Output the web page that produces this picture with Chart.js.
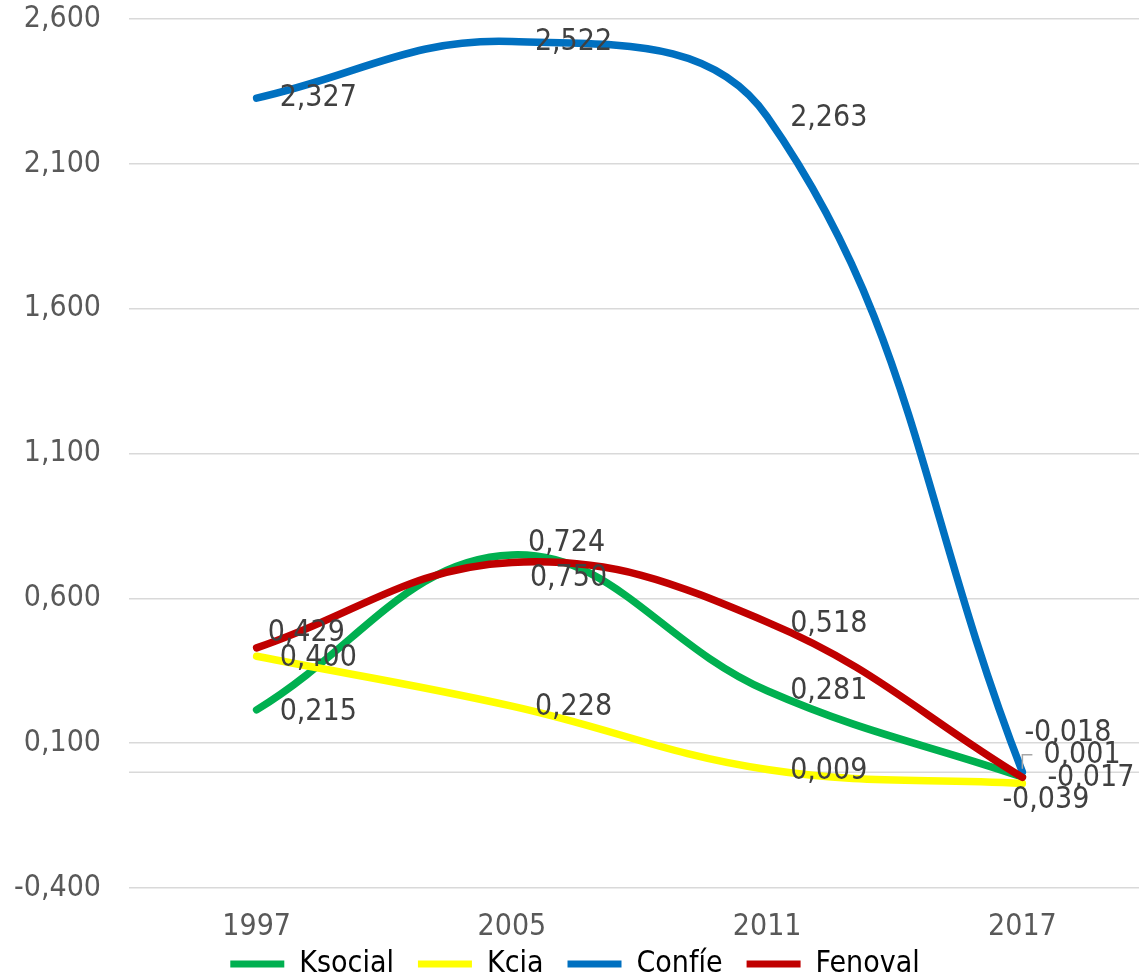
<!DOCTYPE html>
<html><head><meta charset="utf-8">
<script src="https://cdn.jsdelivr.net/npm/chart.js@4/dist/chart.umd.min.js"></script>
<style>html,body{margin:0;padding:0;background:#fff;overflow:hidden}#wrap{width:1150px;height:978px}</style>
</head><body><div id="wrap"><canvas id="c" width="1150" height="978"></canvas></div>
<script>
const categories = ['1997','2005','2011','2017'];
const ksocial = [0.215, 0.750, 0.281, -0.017];
const kcia    = [0.400, 0.228, 0.009, -0.039];
const confie  = [2.327, 2.522, 2.263, 0.001];
const fenoval = [0.429, 0.724, 0.518, -0.018];
const seriesNames = ['Ksocial','Kcia','Confíe','Fenoval'];
const yTicks = [-0.4, 0.1, 0.6, 1.1, 1.6, 2.1, 2.6];

// label offsets (styling) relative to each point
const labelOffsets = [
  [[23,2],[18,23],[23,0],[25,1]],
  [[23,2],[23,1],[23,2],[-20,17]],
  [[23,0],[23,1],[23,2],[21,-17]],
  [[11,-15],[16,-19],[23,2],[2,-44]]
];
const colors = ['#00b050','#ffff00','#0070c0','#c00000'];
const FONT = '"DejaVu Sans Condensed","DejaVu Sans",sans-serif';
const FS = 30;
const fmt = v => v.toFixed(3).replace('.', ',');

const labelPlugin = {
  id: 'dlabels',
  afterDatasetsDraw(chart) {
    const ctx = chart.ctx;
    ctx.save();
    ctx.font = FS + 'px ' + FONT;
    ctx.fillStyle = '#404040';
    ctx.textAlign = 'left'; ctx.textBaseline = 'middle';
    chart.data.datasets.forEach((ds, di) => {
      const meta = chart.getDatasetMeta(di);
      meta.data.forEach((pt, i) => {
        const [dx, dy] = labelOffsets[di][i];
        if (di === 2 && i === 3) {
          ctx.strokeStyle = '#a6a6a6'; ctx.lineWidth = 1.5;
          ctx.beginPath(); ctx.moveTo(pt.x, pt.y - 3); ctx.lineTo(pt.x, pt.y + dy); ctx.lineTo(pt.x + 10, pt.y + dy); ctx.stroke();
        }
        ctx.fillText(fmt(ds.data[i]), pt.x + dx, pt.y + dy);
      });
    });
    ctx.restore();
  }
};
const zeroLine = {
  id: 'zeroLine',
  beforeDatasetsDraw(chart) {
    const ctx = chart.ctx, ys = chart.scales.y, y0 = ys.getPixelForValue(0);
    ctx.save();
    ctx.strokeStyle = '#d9d9d9'; ctx.lineWidth = 1.5;
    ctx.beginPath(); ctx.moveTo(chart.chartArea.left, y0); ctx.lineTo(chart.chartArea.right, y0); ctx.stroke();
    ctx.restore();
  }
};
// legend: compact layout box, drawn slightly higher
const legendFix = {
  id: 'legendFix',
  beforeLayout(chart) {
    const lg = chart.legend;
    if (lg && !lg._patched) {
      const f = lg.fit.bind(lg);
      lg.fit = function () { f(); this.height = 30; };
      lg._patched = true;
    }
  },
  afterLayout(chart) {
    const lg = chart.legend;
    if (lg) { lg.top = chart.height - 53; }
  }
};

const allData = [ksocial, kcia, confie, fenoval];
new Chart(document.getElementById('c'), {
  type: 'line',
  data: {
    labels: categories,
    datasets: allData.map((d, i) => ({
      label: seriesNames[i], data: d, borderColor: colors[i], backgroundColor: colors[i],
      borderWidth: 7.5, tension: 0.4, pointRadius: 0, borderCapStyle: 'round', fill: false,
      order: 4 - i
    }))
  },
  options: {
    responsive: false, animation: false,
    layout: { padding: { top: 19, right: 0, left: 0, bottom: 0 } },
    plugins: {
      tooltip: { enabled: false },
      legend: {
        position: 'bottom',
        labels: {
          sort: (a, b) => a.datasetIndex - b.datasetIndex,
          boxWidth: 54, boxHeight: 7, padding: 24,
          useBorderRadius: true, borderRadius: 3,
          color: '#595959', font: { size: FS, family: FONT },
          generateLabels(chart) {
            return chart.data.datasets.map((ds, i) => ({
              text: ds.label, fillStyle: ds.borderColor, strokeStyle: ds.borderColor,
              lineWidth: 0, datasetIndex: i, hidden: false
            }));
          }
        }
      }
    },
    scales: {
      x: {
        offset: true,
        grid: { display: false, drawTicks: false }, border: { display: false },
        ticks: { color: '#595959', font: { size: FS, family: FONT }, padding: 21, maxRotation: 0 },
        afterFit: s => { s.height = 60; s.paddingLeft = 0; s.paddingRight = 0; }
      },
      y: {
        min: -0.4, max: 2.6,
        afterBuildTicks: s => { s.ticks = yTicks.map(v => ({ value: v })); },
        afterFit: s => { s.width = 129; s.paddingTop = 0; s.paddingBottom = 0; },
        grid: { color: '#d9d9d9', lineWidth: 1.5, drawTicks: false }, border: { display: false },
        ticks: { color: '#595959', font: { size: FS, family: FONT }, padding: 28, callback: v => fmt(v) }
      }
    }
  },
  plugins: [legendFix, zeroLine, labelPlugin]
});
</script></body></html>
